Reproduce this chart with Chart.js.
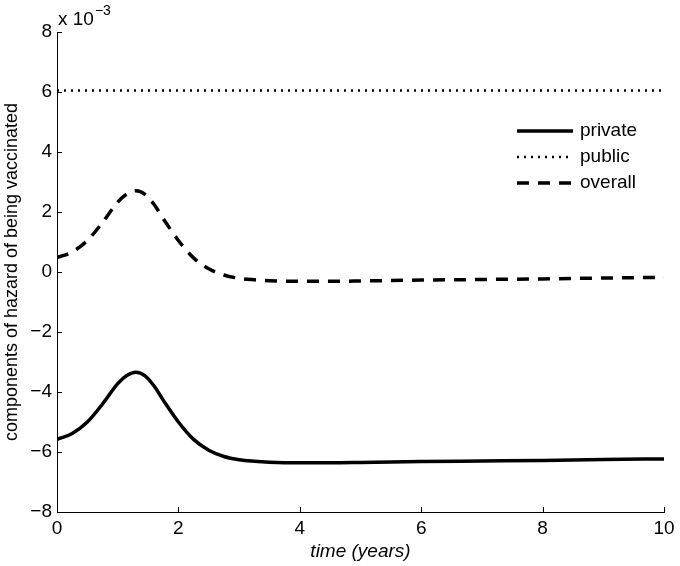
<!DOCTYPE html>
<html>
<head>
<meta charset="utf-8">
<script src="https://cdn.jsdelivr.net/npm/chart.js@4/dist/chart.umd.min.js"></script>
<style>
html,body{margin:0;padding:0;background:#fff;}
#c{display:block;}
</style>
</head>
<body>
<canvas id="c" width="680" height="566"></canvas>
<script>
// time (years)
const timeYears = [0, 0.25, 0.5, 0.75, 1.0, 1.15, 1.3, 1.45, 1.6, 1.75, 2.0, 2.25, 2.5, 2.75, 3.0, 3.25, 3.5, 4, 4.5, 5, 6, 7, 8, 9, 10];
// values in units of 10^-3
const privateVals = [-5.58, -5.38, -5.00, -4.40, -3.72, -3.45, -3.34, -3.46, -3.80, -4.27, -5.00, -5.58, -5.94, -6.15, -6.26, -6.31, -6.34, -6.36, -6.36, -6.35, -6.32, -6.30, -6.28, -6.25, -6.23];
const publicVals = [6.05, 6.05, 6.05, 6.05, 6.05, 6.05, 6.05, 6.05, 6.05, 6.05, 6.05, 6.05, 6.05, 6.05, 6.05, 6.05, 6.05, 6.05, 6.05, 6.05, 6.05, 6.05, 6.05, 6.05, 6.05];
const overallVals = [0.48, 0.67, 1.05, 1.65, 2.33, 2.60, 2.71, 2.59, 2.25, 1.78, 1.05, 0.47, 0.11, -0.10, -0.21, -0.26, -0.29, -0.31, -0.31, -0.30, -0.27, -0.25, -0.23, -0.20, -0.18];
const seriesLabels = ['private', 'public', 'overall'];
const xTicks = [0, 2, 4, 6, 8, 10];
const yTicks = [-8, -6, -4, -2, 0, 2, 4, 6, 8];
const yExponentBase = 'x 10';
const yExponent = '\u22123';

const FONT = '"Liberation Sans", Arial, Helvetica, sans-serif';
const FS = 19;

function pts(vals){ return timeYears.map((t,i)=>({x:t, y:vals[i]})); }

const styles = [
  {borderWidth: 3.5, borderDash: []},
  {borderWidth: 2.5, borderDash: [2, 5]},
  {borderWidth: 3.5, borderDash: [12, 9]}
];

const datasets = [privateVals, publicVals, overallVals].map((v, i) => ({
  label: seriesLabels[i],
  data: pts(v),
  borderColor: '#000',
  backgroundColor: '#000',
  borderWidth: styles[i].borderWidth,
  borderDash: styles[i].borderDash,
  pointRadius: 0,
  fill: false,
  cubicInterpolationMode: 'monotone',
  borderCapStyle: 'butt'
}));

const decor = {
  id: 'decor',
  afterDraw(chart) {
    const ctx = chart.ctx;
    const xs = chart.scales.x, ys = chart.scales.y;
    const area = chart.chartArea;
    ctx.save();
    ctx.strokeStyle = '#000';
    ctx.lineWidth = 1;
    // inward ticks
    xTicks.forEach(v => {
      const px = Math.round(xs.getPixelForValue(v)) + 0.5;
      ctx.beginPath(); ctx.moveTo(px, area.bottom); ctx.lineTo(px, area.bottom - 5); ctx.stroke();
    });
    yTicks.forEach(v => {
      const py = Math.round(ys.getPixelForValue(v)) + 0.5;
      ctx.beginPath(); ctx.moveTo(area.left, py); ctx.lineTo(area.left + 5, py); ctx.stroke();
    });
    // exponent label
    ctx.fillStyle = '#000';
    ctx.textAlign = 'left';
    ctx.textBaseline = 'alphabetic';
    ctx.font = FS + 'px ' + FONT;
    ctx.fillText(yExponentBase, area.left + 1, 25);
    const w = ctx.measureText(yExponentBase).width;
    ctx.font = '14px ' + FONT;
    ctx.fillText(yExponent, area.left + 1 + w + 1, 15);
    // legend
    const lx0 = 517, lx1 = 573, tx = 580;
    const ly = [131, 157, 183];
    chart.data.datasets.forEach((ds, i) => {
      ctx.save();
      ctx.strokeStyle = ds.borderColor;
      ctx.lineWidth = ds.borderWidth;
      ctx.setLineDash(ds.borderDash || []);
      ctx.lineCap = 'butt';
      ctx.beginPath(); ctx.moveTo(lx0, ly[i]); ctx.lineTo(lx1, ly[i]); ctx.stroke();
      ctx.restore();
      ctx.fillStyle = '#000';
      ctx.font = FS + 'px ' + FONT;
      ctx.textAlign = 'left';
      ctx.textBaseline = 'middle';
      ctx.fillText(ds.label, tx, ly[i]);
    });
    ctx.restore();
  }
};

new Chart(document.getElementById('c'), {
  type: 'line',
  data: { datasets },
  options: {
    responsive: false,
    animation: false,
    devicePixelRatio: 1,
    layout: { padding: { left: 0, top: 32, right: 16, bottom: 0 } },
    plugins: { legend: { display: false }, tooltip: { enabled: false } },
    scales: {
      x: {
        type: 'linear',
        min: 0, max: 10,
        afterFit(scale) { scale.height = 54; },
        afterBuildTicks(scale) { scale.ticks = xTicks.map(v => ({value: v})); },
        grid: { display: false, drawTicks: false },
        border: { display: true, color: '#000', width: 1 },
        ticks: { color: '#000', font: { family: FONT, size: FS }, padding: 5, maxRotation: 0 },
        title: { display: true, text: 'time (years)', color: '#000', font: { family: FONT, size: FS, style: 'italic' }, padding: { top: 0, bottom: 3 } }
      },
      y: {
        type: 'linear',
        min: -8, max: 8,
        afterFit(scale) { scale.width = 57; },
        afterBuildTicks(scale) { scale.ticks = yTicks.map(v => ({value: v})); },
        grid: { display: false, drawTicks: false },
        border: { display: true, color: '#000', width: 1 },
        ticks: { color: '#000', font: { family: FONT, size: FS }, padding: 5,
          callback: v => (v < 0 ? '\u2212' + Math.abs(v) : String(v)) },
        title: { display: true, text: 'components of hazard of being vaccinated', color: '#000', font: { family: FONT, size: 18 }, padding: { top: 1, bottom: 0 } }
      }
    }
  },
  plugins: [decor]
});
</script>
</body>
</html>
